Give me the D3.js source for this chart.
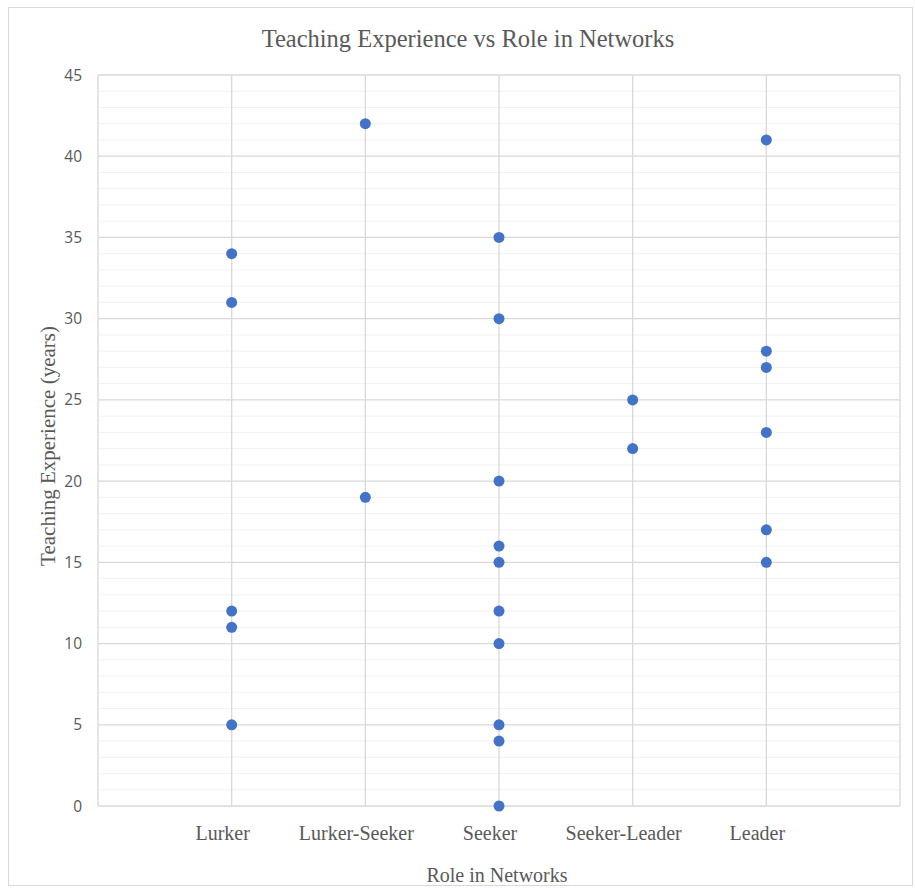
<!DOCTYPE html>
<html><head><meta charset="utf-8">
<script src="https://cdn.jsdelivr.net/npm/d3@7"></script>
<style>body{margin:0;background:#fff}</style>
</head><body>
<svg id="c" width="915" height="888"></svg>
<script>
const categories = ["Lurker","Lurker-Seeker","Seeker","Seeker-Leader","Leader"];
const lurker = [34,31,12,11,5];
const lurkerSeeker = [42,19];
const seeker = [35,30,20,16,15,12,10,5,4,0];
const seekerLeader = [25,22];
const leader = [41,28,27,23,17,15];
const yTicks = [0,5,10,15,20,25,30,35,40,45];
const seriesValues = [lurker,lurkerSeeker,seeker,seekerLeader,leader];

const svg = d3.select("#c");
const L=98,R=900,T=75,B=806;
const serif = "Liberation Serif, Times New Roman, serif";
svg.append("rect").attr("x",8.5).attr("y",7.5).attr("width",904).attr("height",878)
  .attr("fill","#fff").attr("stroke","#d9d9d9");
const x = d3.scaleLinear().domain([0,categories.length+1]).range([L,R]);
const y = d3.scaleLinear().domain([0,45]).range([B,T]);
const g = svg.append("g");
// minor grid
g.selectAll(".mn").data(d3.range(0,46).filter(v=>v%5!==0)).join("line")
  .attr("x1",L).attr("x2",R).attr("y1",d=>y(d)).attr("y2",d=>y(d))
  .attr("stroke","#f2f2f2").attr("stroke-width",1);
// major grid
g.selectAll(".mj").data(yTicks).join("line")
  .attr("x1",L).attr("x2",R).attr("y1",d=>y(d)).attr("y2",d=>y(d))
  .attr("stroke","#d9d9d9").attr("stroke-width",1.3);
// vertical grid
g.selectAll(".vg").data(d3.range(0,categories.length+2)).join("line")
  .attr("x1",d=>x(d)).attr("x2",d=>x(d)).attr("y1",T).attr("y2",B)
  .attr("stroke","#d9d9d9").attr("stroke-width",1.3);
// y tick labels
g.selectAll(".yt").data(yTicks).join("text")
  .attr("x",82).attr("y",d=>y(d)).attr("dy","0.36em").attr("text-anchor","end")
  .attr("font-family","Open Sans, Liberation Sans, sans-serif").attr("font-size",15.5)
  .attr("fill","#595959").text(d=>d);
// x labels
g.selectAll(".xt").data(categories).join("text")
  .attr("x",(d,i)=>x(i+1)-9).attr("y",840).attr("text-anchor","middle")
  .attr("font-family",serif).attr("font-size",20)
  .attr("fill","#595959").text(d=>d);
// points
const pts = seriesValues.flatMap((arr,i)=>arr.map(v=>({c:i+1,v})));
g.selectAll(".pt").data(pts).join("circle")
  .attr("cx",d=>x(d.c)).attr("cy",d=>y(d.v)).attr("r",5.5).attr("fill","#4472c4");
// title
svg.append("text").attr("x",468).attr("y",47).attr("text-anchor","middle")
  .attr("font-family",serif).attr("font-size",24.5)
  .attr("fill","#595959").text("Teaching Experience vs Role in Networks");
svg.append("text").attr("x",497).attr("y",882).attr("text-anchor","middle")
  .attr("font-family",serif).attr("font-size",20)
  .attr("fill","#595959").text("Role in Networks");
svg.append("text").attr("transform","translate(55,446) rotate(-90)").attr("text-anchor","middle")
  .attr("font-family",serif).attr("font-size",21)
  .attr("fill","#595959").text("Teaching Experience (years)");
</script>
</body></html>
